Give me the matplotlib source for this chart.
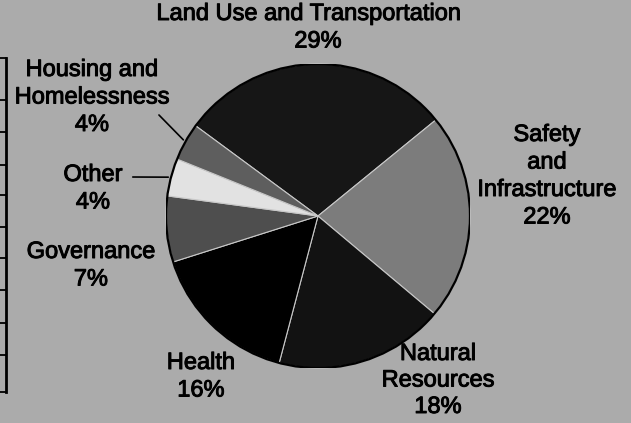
import matplotlib
matplotlib.use("Agg")
import matplotlib.pyplot as plt
import matplotlib.patheffects as pe
from matplotlib.lines import Line2D
from matplotlib.patches import Circle
import numpy as np

# ---- data (clockwise from Land Use) ----
categories = ["Land Use and Transportation", "Safety\nand\nInfrastructure", "Natural\nResources",
              "Health", "Governance", "Other", "Housing and\nHomelessness"]
values = [29, 22, 18, 16, 7, 4, 4]
colors = ["#161616", "#7c7c7c", "#121212", "#000000", "#4e4e4e", "#e2e2e2", "#5e5e5e"]

W, H = 631, 423
BG = "#ababab"
plt.rcParams['font.family'] = ['Liberation Sans', 'DejaVu Sans']

fig = plt.figure(figsize=(W / 100, H / 100), dpi=100, facecolor=BG)

cx, cy, r = 318, 216, 152
ax = fig.add_axes([(cx - r) / W, 1 - (cy + r) / H, 2 * r / W, 2 * r / H])
ax.set_facecolor(BG)
ax.axis("off")

wedges, _ = ax.pie(values, colors=colors, startangle=143.6, counterclock=False,
                   radius=1.0, wedgeprops=dict(edgecolor="#c8c8c8", linewidth=0.8))
ax.add_patch(Circle((0, 0), 1.0, fill=False, edgecolor="black", linewidth=1.6))
ax.set_xlim(-1, 1)
ax.set_ylim(-1, 1)

# label positions in pixels (x center, y of first line center)
label_pos = {
    0: (309, 14),
    1: (547, 135),
    2: (438, 354),
    3: (201, 363),
    4: (91, 252),
    5: (93, 175),
    6: (92, 70),
}
line_h = 27.5
fs = 17
effects = [pe.withStroke(linewidth=0.7, foreground="black")]
for i, (cat, v) in enumerate(zip(categories, values)):
    x, y = label_pos[i]
    lines = cat.split("\n") + [f"{v}%"]
    lh = 26.5 if i == 2 else line_h
    for k, t in enumerate(lines):
        xx = 318 if (i == 0 and k == 1) else x
        fig.text(xx / W, 1 - (y + k * lh) / H, t, ha="center", va="center",
                 fontsize=fs, color="black", path_effects=effects)

# leader lines for small slices
theta = 143.6
angles = []
for v in values:
    start = theta
    theta -= v * 3.6
    angles.append((start + theta) / 2)
leaders = {6: (157, 113), 5: (130, 177)}
for i, (px, py) in leaders.items():
    a = np.deg2rad(angles[i])
    ax.annotate("", xy=(np.cos(a), np.sin(a)), xycoords="data",
                xytext=(px / W, 1 - py / H), textcoords="figure fraction",
                arrowprops=dict(arrowstyle="-", color="black", lw=1.2))

# table fragment at left edge
def fl(x0, y0, x1, y1, lw=1.5):
    fig.add_artist(Line2D([x0 / W, x1 / W], [1 - y0 / H, 1 - y1 / H], color="black", lw=lw))

fl(6, 58, 6, 392, 2)
for ty in [58, 100, 132, 165, 195, 227, 258, 290, 323, 355, 392]:
    fl(0, ty, 6, ty, 1.3)

fig.savefig("out.png", dpi=100, facecolor=BG)
